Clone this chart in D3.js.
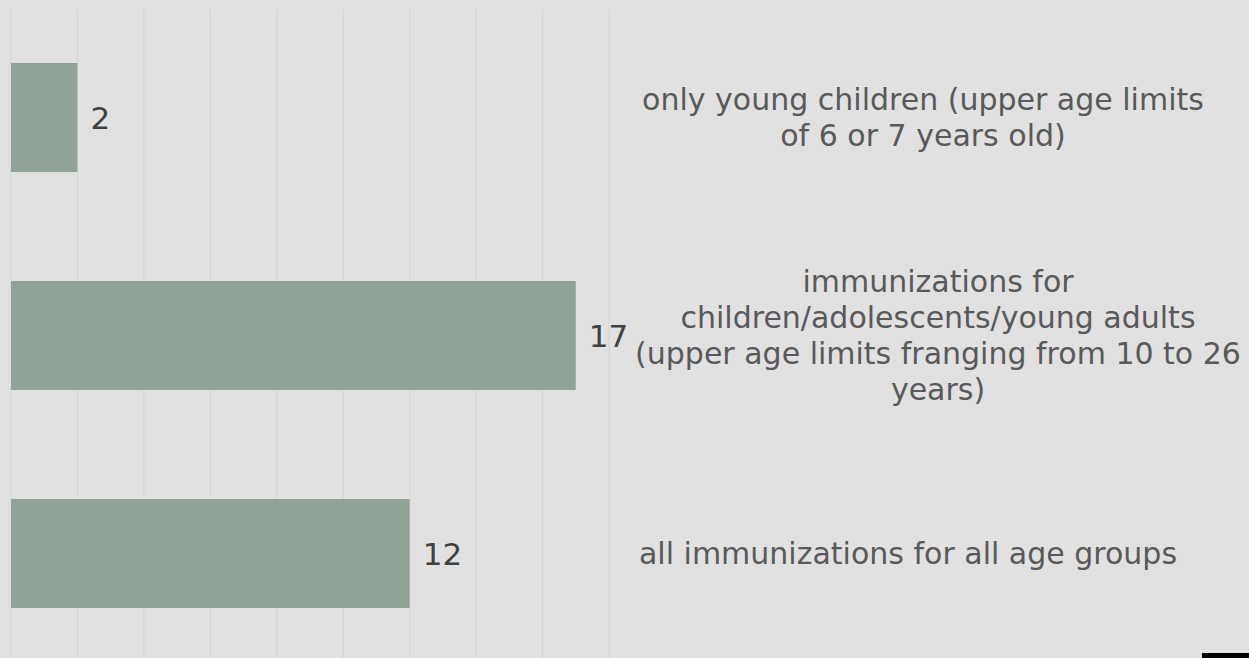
<html>
<head>
<style>
  body { margin: 0; background: #e1e1e1; overflow: hidden; }
  text { font-family: "DejaVu Sans", sans-serif; }
</style>
</head>
<body>
<script src="https://d3js.org/d3.v7.min.js"></script>
<script>

// categories, top to bottom, as the label lines show them
var categories = [
  ["only young children (upper age limits", "of 6 or 7 years old)"],
  ["immunizations for", "children/adolescents/young adults", "(upper age limits franging from 10 to 26", "years)"],
  ["all immunizations for all age groups"]
];
var values = [2, 17, 12];
var gridTicks = [0, 2, 4, 6, 8, 10, 12, 14, 16, 18];

var width = 1249,
    height = 658;

// where each category text block is centred (layout, not data)
var labelCx = [923, 938, 908];

var svg = d3.select("body").append("svg")
  .attr("width", width)
  .attr("height", height);

svg.append("rect")
  .attr("width", width)
  .attr("height", height)
  .attr("fill", "#e1e1e1");

var x = d3.scaleLinear()
  .domain([0, 18])
  .range([11, 609]);

var y = d3.scaleBand()
  .domain(d3.range(values.length))
  .range([8.5, 662.5])
  .paddingInner(0.5)
  .paddingOuter(0.25);

// vertical gridlines
svg.append("g")
  .selectAll("line").data(gridTicks)
  .enter().append("line")
    .attr("x1", function(d) { return x(d); })
    .attr("x2", function(d) { return x(d); })
    .attr("y1", 9)
    .attr("y2", height)
    .attr("stroke", "#d3d3d3")
    .attr("stroke-width", 1);

// bars
svg.append("g")
  .selectAll("rect").data(values)
  .enter().append("rect")
    .attr("x", x(0))
    .attr("y", function(d, i) { return y(i); })
    .attr("width", function(d) { return x(d) - x(0); })
    .attr("height", y.bandwidth())
    .attr("fill", "#91a397");

// value labels
svg.append("g")
  .selectAll("text").data(values)
  .enter().append("text")
    .attr("x", function(d) { return x(d) + 13; })
    .attr("y", function(d, i) { return y(i) + y.bandwidth() / 2; })
    .attr("dy", "0.37em")
    .attr("font-size", 31)
    .attr("fill", "#404040")
    .text(function(d) { return d; });

// category labels on the right
var lineH = 36;
var cat = svg.append("g")
  .selectAll("text").data(categories)
  .enter().append("text")
    .attr("text-anchor", "middle")
    .attr("font-size", 30)
    .attr("fill", "#595959")
    .attr("transform", function(d, i) {
      var cy = y(i) + y.bandwidth() / 2 - (d.length - 1) * lineH / 2;
      return "translate(" + labelCx[i] + "," + cy + ")";
    });

cat.selectAll("tspan").data(function(d) { return d; })
  .enter().append("tspan")
    .attr("x", 0)
    .attr("y", function(d, j) { return j * lineH; })
    .attr("dy", "0.35em")
    .text(function(d) { return d; });

// small black block in the corner
svg.append("rect")
  .attr("x", 1202)
  .attr("y", 653)
  .attr("width", 47)
  .attr("height", 5)
  .attr("fill", "#000");

</script>
</body>
</html>
